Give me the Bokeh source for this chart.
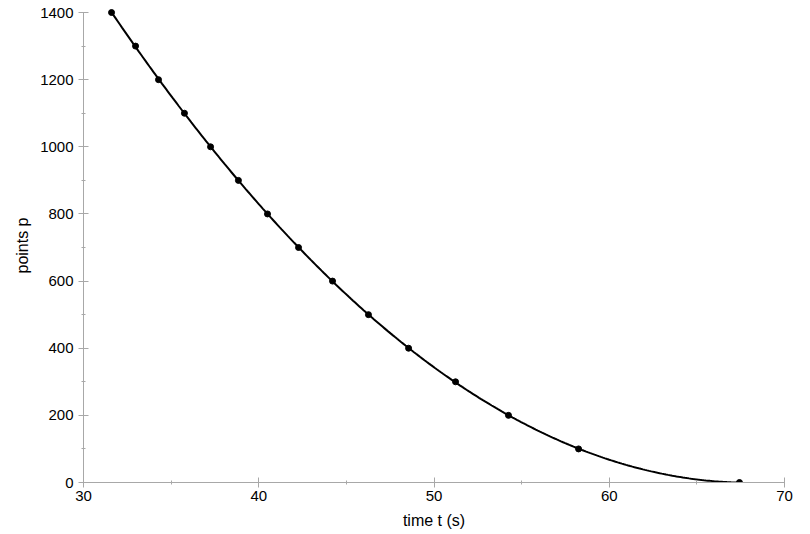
import numpy as np
from bokeh.plotting import figure
from bokeh.models import Range1d, SingleIntervalTicker
from bokeh.embed import file_html
from bokeh.resources import INLINE

# data
time_s = [31.6, 32.97, 34.28, 35.76, 37.25, 38.84, 40.5, 42.27, 44.21, 46.26,
          48.55, 51.23, 54.25, 58.25, 67.43]
points = [1400, 1300, 1200, 1100, 1000, 900, 800, 700, 600, 500,
          400, 300, 200, 100, 0]

# quadratic regression of the data (the drawn fit curve)
coef = np.polyfit(time_s, points, 2)
t_fit = np.linspace(min(time_s), max(time_s), 300)
p_fit = np.polyval(coef, t_fit)

FONT = "Liberation Sans"
AX = "#a8a8a8"

p = figure(width=810, height=534, output_backend="svg", toolbar_location=None,
           x_range=Range1d(30, 70), y_range=Range1d(0, 1412),
           min_border_left=83, min_border_right=26, min_border_top=8,
           min_border_bottom=52)
p.outline_line_color = None
p.xgrid.visible = False
p.ygrid.visible = False

p.line(t_fit, p_fit, line_color="black", line_width=2)
p.scatter(time_s, points, size=6, fill_color="black", line_color="black")

p.xaxis.ticker = SingleIntervalTicker(interval=10, num_minor_ticks=2)
p.yaxis.ticker = SingleIntervalTicker(interval=200, num_minor_ticks=2)
p.yaxis.bounds = (0, 1400)
p.xaxis.axis_label = "time t (s)"
p.yaxis.axis_label = "points p"

for ax in (p.xaxis, p.yaxis):
    ax.axis_line_color = AX
    ax.major_tick_line_color = AX
    ax.minor_tick_line_color = AX
    ax.major_tick_in = 5
    ax.major_tick_out = 5
    ax.minor_tick_in = 2
    ax.minor_tick_out = 2
    ax.major_label_text_font = FONT
    ax.major_label_text_font_size = "15px"
    ax.major_label_text_color = "black"
    ax.axis_label_text_font = FONT
    ax.axis_label_text_font_size = "16px"
    ax.axis_label_text_font_style = "normal"
    ax.axis_label_text_color = "black"

p.xaxis.major_label_standoff = 3
p.yaxis.major_label_standoff = 5
p.xaxis.axis_label_standoff = 8
p.yaxis.axis_label_standoff = 6

open("out.html", "w").write(file_html(p, INLINE))
